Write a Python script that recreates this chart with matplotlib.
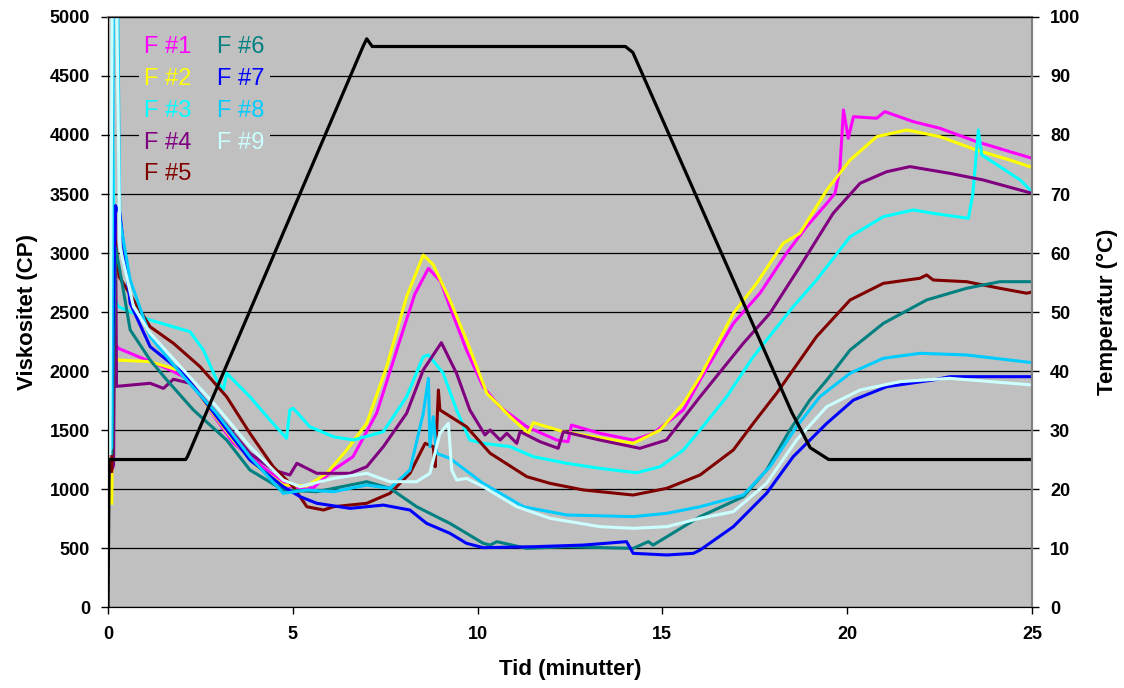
import matplotlib
matplotlib.use("Agg")
from matplotlib import pyplot as plt

plt.rcParams["font.family"] = ["Liberation Sans", "DejaVu Sans"]
plt.rcParams["font.weight"] = "bold"

# viscosity series (time in minutes, viscosity in CP)
f1_t = [0.1, 0.15, 0.28, 1.14, 1.59, 2.22, 2.8, 3.39, 4.29, 4.92, 5.55, 6.09, 6.63, 7.27, 7.9, 8.3, 8.67, 9.0, 9.25, 9.7,
        10.15, 10.6, 11.33, 12.14, 12.45, 12.54, 13.31, 14.21, 14.75, 15.57, 16.02, 16.92, 17.64, 18.36, 18.9, 19.45,
        19.67, 19.8, 19.9, 20.03, 20.17, 20.8, 21.02, 21.79, 22.51, 23.5, 24.4, 25]
f1_v = [1100, 2250, 2192, 2080, 2023, 1924, 1650, 1390, 1161, 1020, 1008, 1161, 1274, 1644, 2263, 2650, 2870, 2760, 2545, 2178,
        1867, 1697, 1528, 1415, 1401, 1542, 1472, 1415, 1472, 1670, 1924, 2404, 2659, 2998, 3223, 3421,
        3506, 3700, 4212, 3972, 4155, 4142, 4198, 4113, 4057, 3944, 3859, 3803]

f2_t = [0.1, 0.15, 0.28, 1.14, 2.04, 2.7, 3.39, 4.0, 4.74, 5.38, 5.92, 6.46, 7.0, 7.54, 8.08, 8.53, 8.8, 9.25, 9.7, 10.25,
        10.88, 11.37, 11.51, 12.32, 13.13, 14.21, 14.94, 15.57, 16.02, 16.92, 17.55, 18.27, 18.72, 19.45, 20.08, 20.8,
        21.61, 22.51, 23.5, 24.4, 25]
f2_v = [880, 2120, 2093, 2079, 1994, 1700, 1415, 1200, 1034, 1025, 1133, 1331, 1557, 2037, 2630, 2983, 2900, 2602, 2263, 1811,
        1613, 1472, 1562, 1486, 1443, 1387, 1500, 1726, 1952, 2489, 2743, 3082, 3167, 3534, 3788, 3986,
        4043, 3986, 3873, 3788, 3726]

f3_t = [0.05, 0.12, 0.2, 0.28, 1.14, 2.22, 2.58, 2.94, 3.12, 3.21, 3.84, 4.38, 4.83, 4.92, 5.01, 5.46, 6.1, 6.64, 7.45,
        8.08, 8.53, 8.67, 9.07, 9.43, 9.79, 10.15, 10.88, 11.51, 12.41, 13.31, 14.3, 14.94, 15.57, 16.02, 16.74, 17.46,
        18.54, 19.17, 20.08, 20.98, 21.79, 22.33, 23.28, 23.4, 23.55, 23.64, 24.13, 24.68, 25]
f3_v = [1350, 4000, 2600, 2545, 2432, 2333, 2178, 1924, 1839, 1981, 1782, 1585, 1430, 1670, 1684, 1528, 1443, 1415, 1486,
        1782, 2121, 2136, 1981, 1670, 1415, 1387, 1359, 1274, 1218, 1175, 1138, 1189, 1331, 1500, 1782, 2121,
        2545, 2771, 3138, 3308, 3365, 3336, 3294, 3500, 4043, 3831, 3732, 3619, 3520]

f4_t = [0.08, 0.15, 0.2, 0.23, 1.14, 1.5, 1.77, 2.22, 2.94, 3.84, 4.47, 4.92, 5.11, 5.65, 6.55, 7.0, 7.45, 8.08, 8.53, 9.02,
        9.43, 9.79, 10.2, 10.34, 10.61, 10.79, 11.06, 11.15, 11.69, 12.18, 12.32, 13.31, 14.39, 15.11, 16.02, 17.19,
        17.91, 18.72, 19.62, 20.35, 21.07, 21.7, 22.78, 23.68, 25]
f4_v = [1150, 1200, 3400, 1870, 1896, 1853, 1930, 1896, 1642, 1303, 1161, 1119, 1218, 1133, 1133, 1189, 1359, 1642, 2009, 2240,
        1981, 1670, 1458, 1500, 1415, 1472, 1387, 1486, 1401, 1345, 1486, 1415, 1345, 1415, 1782, 2235,
        2489, 2884, 3336, 3591, 3689, 3732, 3675, 3619, 3506]

f5_t = [0.1, 0.2, 0.3, 1.14, 1.77, 2.49, 3.21, 3.84, 4.47, 5.01, 5.38, 5.83, 6.1, 7.0, 7.63, 8.17, 8.58, 8.8, 8.85, 8.94,
        8.98, 9.7, 10.34, 11.33, 11.96, 12.86, 14.21, 15.12, 16.02, 16.92, 17.46, 18.09, 19.17, 20.08, 20.98, 21.97,
        22.15, 22.33, 23.23, 24.13, 24.86, 25]
f5_v = [1150, 3100, 2800, 2375, 2235, 2037, 1782, 1472, 1189, 1020, 850, 822, 850, 879, 964, 1133, 1387, 1359, 1189, 1839,
        1670, 1528, 1303, 1105, 1048, 992, 949, 1006, 1119, 1331, 1557, 1811, 2291, 2602, 2743, 2786,
        2814, 2771, 2757, 2701, 2659, 2670]

f6_t = [0.1, 0.2, 0.35, 0.6, 1.14, 1.59, 2.31, 3.21, 3.84, 4.74, 5.65, 7.0, 7.63, 8.35, 9.25, 9.7, 10.15, 10.34, 10.52,
        11.33, 12.41, 14.21, 14.62, 14.75, 15.57, 16.02, 17.19, 17.82, 18.45, 18.99, 19.45, 20.08, 20.98, 22.15, 23.23,
        24.13, 25]
f6_v = [1300, 3050, 2800, 2348, 2093, 1924, 1670, 1415, 1161, 992, 977, 1062, 1006, 850, 709, 625, 540, 525, 554,
        497, 511, 497, 554, 525, 681, 766, 935, 1161, 1500, 1754, 1924, 2178, 2404, 2602, 2701,
        2757, 2757]

f7_t = [0, 0.08, 0.2, 0.32, 0.6, 1.14, 2.04, 2.94, 3.84, 4.74, 5.2, 5.65, 6.55, 7.45, 8.17, 8.62, 9.25, 9.7, 10.15, 11.51,
        12.86, 14.03, 14.21, 15.12, 15.84, 16.02, 16.92, 17.82, 18.54, 19.45, 20.17, 21.07, 22.33, 22.78, 25]
f7_v = [1390, 1450, 3400, 3339, 2574, 2206, 1981, 1613, 1246, 1020, 935, 879, 836, 864, 822, 709, 625, 540, 503, 511,
        525, 554, 455, 441, 455, 483, 681, 964, 1274, 1557, 1754, 1867, 1924, 1952, 1952]

f8_t = [0, 0.1, 0.15, 0.25, 0.32, 0.6, 1.14, 2.04, 2.94, 3.84, 4.74, 5.38, 6.1, 7.0, 7.63, 8.17, 8.53, 8.67, 8.71, 8.8,
        8.89, 9.25, 10.15, 11.24, 12.41, 14.21, 15.12, 16.02, 17.19, 17.91, 18.63, 19.26, 20.08, 20.98, 21.97, 23.23, 25]
f8_v = [1300, 1350, 5500, 5500, 3280, 2771, 2291, 1952, 1642, 1274, 964, 992, 977, 1034, 1006, 1161, 1642, 1938, 1359, 1613,
        1303, 1260, 1048, 850, 780, 766, 794, 850, 949, 1189, 1528, 1782, 1981, 2108, 2150, 2136, 2071]

f9_t = [0.05, 0.12, 0.22, 0.32, 0.69, 1.14, 2.04, 2.94, 3.84, 4.74, 5.2, 6.1, 7.0, 7.63, 8.35, 8.71, 8.98, 9.21, 9.3, 9.43,
        9.7, 10.15, 11.06, 11.96, 13.31, 14.21, 15.12, 16.02, 16.92, 17.82, 18.63, 19.45, 20.35, 21.43, 22.78, 25]
f9_v = [1300, 5500, 5500, 3054, 2545, 2320, 2009, 1698, 1359, 1076, 1020, 1090, 1133, 1062, 1062, 1133, 1472, 1557, 1161, 1076,
        1090, 1020, 850, 752, 681, 667, 681, 752, 808, 1048, 1415, 1698, 1839, 1910, 1938, 1882]

# temperature (right axis)
temp_t = [0, 0.03, 2.1, 2.15, 6.9, 7.0, 7.15, 14.0, 14.2, 18.5, 19.0, 19.5, 25]
temp_c = [0, 25, 25, 25.5, 95, 96.3, 95, 95, 94, 33, 27, 25, 25]

labels = ["F #1", "F #2", "F #3", "F #4", "F #5", "F #6", "F #7", "F #8", "F #9"]
colors = ["#FF00FF", "#FFFF00", "#00FFFF", "#800080", "#800000", "#008080", "#0000FF", "#00CCFF", "#CCFFFF"]
series = [(f1_t, f1_v), (f2_t, f2_v), (f3_t, f3_v), (f4_t, f4_v), (f5_t, f5_v),
          (f6_t, f6_v), (f7_t, f7_v), (f8_t, f8_v), (f9_t, f9_v)]

fig = plt.figure(figsize=(11.24, 6.88), dpi=100)
ax = fig.add_axes([0.0961, 0.1177, 0.822, 0.8576])
ax.set_facecolor("#C0C0C0")

for (t, v), c, lab in zip(series, colors, labels):
    ax.plot(t, v, color=c, lw=2.2, label=lab, solid_joinstyle="round")

ax.set_xlim(0, 25)
ax.set_ylim(0, 5000)
ax.set_xticks(range(0, 26, 5))
ax.set_yticks(range(0, 5001, 500))
ax.yaxis.grid(True, color="black", lw=0.9)
ax.set_axisbelow(True)
ax.tick_params(labelsize=13, direction="out", length=5, width=1)
ax.tick_params(axis="x", pad=9)
ax.tick_params(axis="y", pad=8)
ax.set_xlabel("Tid (minutter)", fontsize=16, fontweight="bold", labelpad=11)
ax.set_ylabel("Viskositet (CP)", fontsize=16, fontweight="bold", labelpad=8)
for s in ["top", "right"]:
    ax.spines[s].set_color("#808080")
    ax.spines[s].set_linewidth(1.5)

# legend: coloured text only, two columns, grey box hiding the grid
leg = ax.legend(ncol=2, loc="upper left", bbox_to_anchor=(0.034, 0.975), handlelength=0, handletextpad=0,
                labelcolor="linecolor", fontsize=17, frameon=True, facecolor="#C0C0C0", edgecolor="none",
                framealpha=1, fancybox=False, borderpad=0.2, borderaxespad=0, labelspacing=0.41, columnspacing=1.1)
leg.set_zorder(10)
for txt in leg.get_texts():
    txt.set_fontweight("normal")

ax2 = ax.twinx()
ax2.plot(temp_t, temp_c, color="black", lw=2.3)
ax2.set_ylim(0, 100)
ax2.set_yticks(range(0, 101, 10))
ax2.tick_params(labelsize=13, direction="out", length=5, width=1, pad=8)
ax2.set_ylabel("Temperatur (°C)", fontsize=16, fontweight="bold", labelpad=12)
ax2.spines["right"].set_color("#808080")
ax2.spines["right"].set_linewidth(1.5)

fig.savefig("out.png", dpi=100)
